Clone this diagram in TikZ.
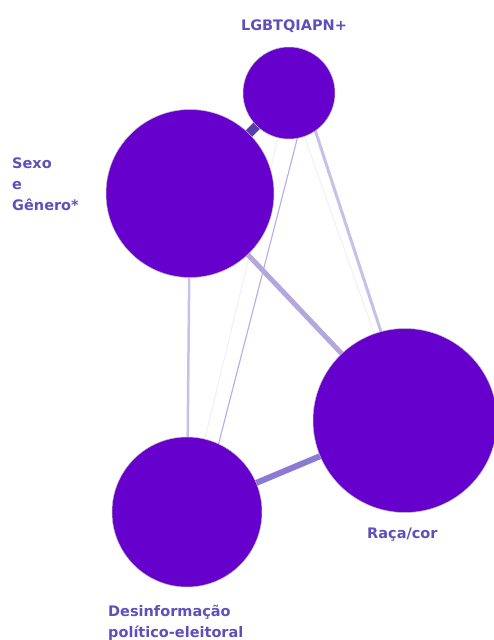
\documentclass[tikz,border=0pt]{standalone}
\usepackage{fontspec}
\setmainfont{DejaVu Sans}
\usetikzlibrary{calc, backgrounds}
\definecolor{nodepurple}{RGB}{102, 0, 204}
\definecolor{labelpurple}{RGB}{98, 78, 186}
\definecolor{edgedark}{RGB}{88, 62, 168}
\definecolor{edgemid}{RGB}{140, 121, 209}
\definecolor{edgesoft}{RGB}{179, 167, 221}
\definecolor{edgelight}{RGB}{200, 192, 234}
\definecolor{edgethin}{RGB}{181, 171, 232}
\definecolor{edgefaint}{RGB}{240, 238, 249}

\begin{document}
\begin{tikzpicture}[x=1pt, y=-1pt,
    theme/.style={circle, fill=nodepurple, draw=black!25, line width=0.5pt, inner sep=0pt},
    lbl/.style={text=labelpurple, font=\fontsize{14.5}{20.8}\selectfont\bfseries, inner sep=0pt, align=left}]
    \useasboundingbox (0,0) rectangle (494,640);

    \node[theme, minimum size=92] (lgbt) at (289,93) {};
    \node[theme, minimum size=168] (sexo) at (190,193.5) {};
    \node[theme, minimum size=184] (raca) at (405,420.5) {};
    \node[theme, minimum size=150] (desinf) at (187,512) {};

    % links behind the circles, width ~ weight
    \begin{scope}[on background layer]
        \draw[edgefaint, line width=1] (lgbt.center) -- (desinf.center);
        \draw[edgefaint, line width=1] (lgbt.center) -- (raca.center);
        \draw[edgethin, line width=1.1] ($(lgbt.center)+(20,0)$) -- ($(desinf.center)+(14,0)$);
        \draw[edgelight, line width=3] ($(lgbt.center)+(14,0)$) -- ($(raca.center)+(5,0)$);
        \draw[edgelight, line width=2.5] (sexo.center) -- (desinf.center);
        \draw[edgesoft, line width=5] (sexo.center) -- (raca.center);
        \draw[edgemid, line width=6] (raca.center) -- (desinf.center);
        \draw[edgedark, line width=9] (lgbt.center) -- (sexo.center);
    \end{scope}

    % base anchor sits on the last line of a multi-line label
    \node[lbl, anchor=base] (lgbtlbl) at (294,30.7) {LGBTQIAPN+};
    \node[lbl, anchor=base west] (sexolbl) at (12,210) {Sexo\\e\\Gênero*};
    \node[lbl, anchor=base west] (racalbl) at (367,538) {Raça/cor};
    \node[lbl, anchor=base west] (desinflbl) at (108,637.7) {Desinformação\\político-eleitoral};
\end{tikzpicture}
\end{document}
